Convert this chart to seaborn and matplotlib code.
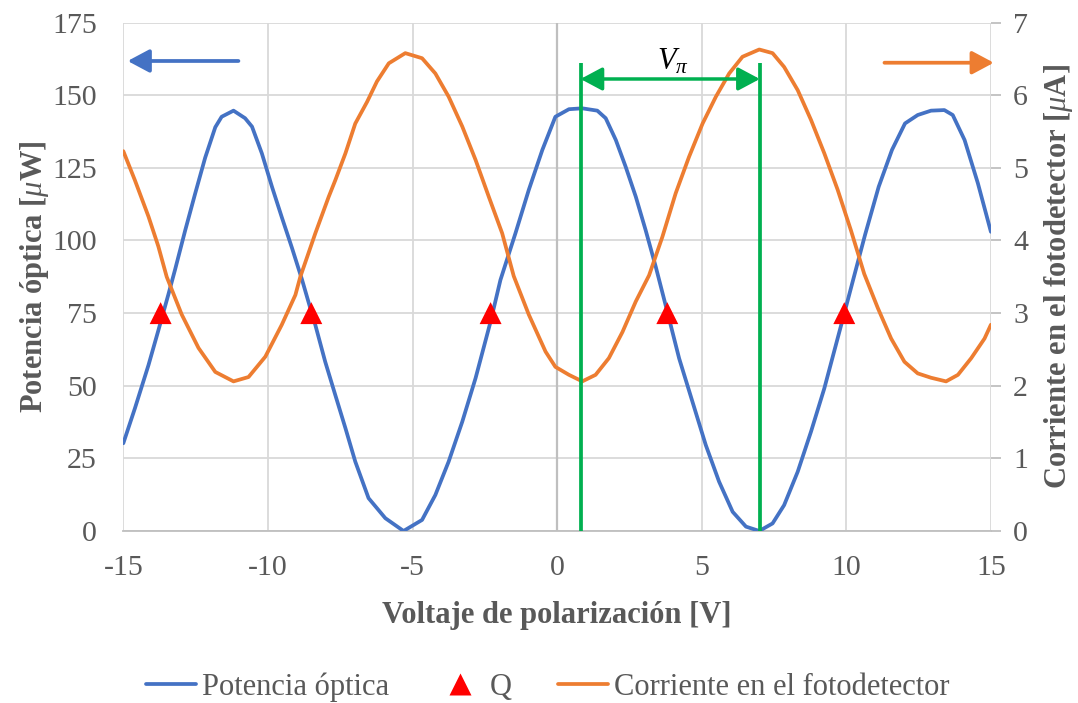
import matplotlib
matplotlib.use("Agg")
import matplotlib.pyplot as plt
import seaborn as sns
import pandas as pd
from matplotlib.lines import Line2D

# Optical power [µW] vs bias voltage [V]
volt_p = [-15.0, -14.6, -14.13, -13.79, -13.44, -13.21, -12.86, -12.52, -12.17, -11.82,
          -11.6, -11.19, -10.79, -10.55, -10.21, -9.86, -9.52, -9.17, -8.82, -8.5,
          -8.36, -8.02, -7.67, -7.32, -6.98, -6.52, -5.94, -5.31, -4.67, -4.21,
          -3.75, -3.28, -2.82, -2.3, -1.96, -1.44, -0.98, -0.51, -0.06, 0.41,
          0.87, 1.39, 1.68, 2.03, 2.37, 2.72, 3.06, 3.41, 3.81, 4.22,
          4.68, 5.14, 5.6, 6.07, 6.53, 6.99, 7.45, 7.85, 8.32, 8.78,
          9.24, 9.7, 9.93, 10.28, 10.65, 11.12, 11.58, 12.03, 12.47, 12.93,
          13.39, 13.68, 14.09, 14.55, 15.0]
pot_uW = [30.2, 42.2, 57.1, 69.0, 81.5, 90.0, 103.5, 116.0, 128.5, 139.0,
          142.6, 144.7, 142.1, 139.2, 130.0, 118.5, 108.0, 97.5, 86.5, 75.5,
          70.9, 58.3, 46.8, 35.4, 23.9, 11.3, 4.4, 0.0, 3.8, 12.4,
          23.9, 37.6, 52.6, 72.1, 86.4, 102.5, 117.4, 131.2, 142.6, 145.2,
          145.5, 144.7, 142.1, 134.6, 125.4, 115.1, 103.6, 91.0, 75.5, 59.4,
          44.5, 29.6, 17.0, 6.6, 1.5, 0.0, 2.6, 8.9, 20.4, 34.2,
          49.1, 66.3, 74.9, 88.1, 102.0, 118.5, 131.2, 140.3, 143.2, 144.7,
          144.9, 143.2, 134.6, 119.7, 103.0]

# Photodetector current [µA] vs bias voltage [V]
volt_i = [-15.0, -14.6, -14.13, -13.79, -13.5, -12.98, -12.4, -11.82, -11.19, -10.67,
          -10.09, -9.52, -9.05, -8.88, -8.36, -7.9, -7.67, -7.32, -6.98, -6.57,
          -6.23, -5.82, -5.25, -4.67, -4.21, -3.75, -3.28, -2.82, -2.36, -1.9,
          -1.5, -0.98, -0.4, -0.06, 0.41, 0.87, 1.33, 1.79, 2.26, 2.72,
          3.18, 3.64, 4.1, 4.56, 5.03, 5.49, 5.95, 6.41, 6.99, 7.45,
          7.85, 8.32, 8.78, 9.24, 9.7, 10.16, 10.62, 11.09, 11.55, 12.01,
          12.47, 12.93, 13.45, 13.86, 14.32, 14.78, 15.0]
corr_uA = [5.23, 4.83, 4.33, 3.92, 3.50, 2.98, 2.52, 2.19, 2.06, 2.12,
           2.40, 2.84, 3.25, 3.50, 4.10, 4.60, 4.83, 5.20, 5.61, 5.91,
           6.19, 6.44, 6.58, 6.51, 6.30, 5.98, 5.57, 5.11, 4.60, 4.10,
           3.51, 2.98, 2.47, 2.26, 2.15, 2.06, 2.15, 2.38, 2.74, 3.16,
           3.52, 4.05, 4.65, 5.15, 5.61, 5.98, 6.30, 6.53, 6.63, 6.58,
           6.39, 6.07, 5.66, 5.20, 4.70, 4.14, 3.54, 3.07, 2.65, 2.33,
           2.17, 2.11, 2.06, 2.15, 2.38, 2.65, 2.84]

# Quadrature points
q_volt = [-13.71, -8.5, -2.3, 3.81, 9.93]
q_pot = [75, 75, 75, 75, 75]

# Half-wave voltage markers
v_pi_start = 0.81
v_pi_end = 7.01

x_ticks = [-15, -10, -5, 0, 5, 10, 15]
y_ticks_left = [0, 25, 50, 75, 100, 125, 150, 175]
y_ticks_right = [0, 1, 2, 3, 4, 5, 6, 7]

BLUE = "#4472C4"
ORANGE = "#ED7D31"
GREEN = "#00B050"
RED = "#FF0000"
TXT = "#595959"
GRID = "#D9D9D9"

sns.set_theme(style="white")
plt.rcParams["font.family"] = ["Liberation Serif", "DejaVu Serif"]
plt.rcParams["axes.unicode_minus"] = False
plt.rcParams["mathtext.fontset"] = "custom"
plt.rcParams["mathtext.rm"] = "Liberation Serif"
plt.rcParams["mathtext.it"] = "Liberation Serif:italic"
plt.rcParams["mathtext.bf"] = "Liberation Serif:bold:italic"

df_p = pd.DataFrame({"v": volt_p, "p": pot_uW})
df_i = pd.DataFrame({"v": volt_i, "i": corr_uA})
df_q = pd.DataFrame({"v": q_volt, "p": q_pot})

fig = plt.figure(figsize=(10.78, 7.03), dpi=100)
ax = fig.add_axes([0.1144, 0.2447, 0.8048, 0.7231])
ax2 = ax.twinx()

line_kw = dict(lw=2.7, errorbar=None, legend=False, zorder=3,
               solid_joinstyle="round", solid_capstyle="round")
sns.lineplot(data=df_p, x="v", y="p", ax=ax, color=BLUE, **line_kw)
sns.scatterplot(data=df_q, x="v", y="p", ax=ax, marker="^", s=250,
                color=RED, edgecolor="none", legend=False, zorder=4)
sns.lineplot(data=df_i, x="v", y="i", ax=ax2, color=ORANGE, **line_kw)

# axes ranges and ticks
ax.set_xlim(-15, 15)
ax.set_ylim(0, 175)
ax2.set_ylim(0, 7)
ax.set_xticks(x_ticks)
ax.set_yticks(y_ticks_left)
ax2.set_yticks(y_ticks_right)

ax.grid(True, color=GRID, lw=1.3, zorder=0)
ax.set_axisbelow(True)
ax.axvline(0, color="#BFBFBF", lw=1.6, zorder=1)

for sp in ["top", "left", "right"]:
    ax.spines[sp].set_visible(False)
ax.spines["bottom"].set_color("#BFBFBF")
ax.spines["bottom"].set_linewidth(1.3)
for sp in ax2.spines.values():
    sp.set_visible(False)

TICK_FS = 21.5
LABEL_FS = 22
ax.tick_params(axis="x", length=0, pad=17, labelsize=TICK_FS, labelcolor=TXT)
ax.tick_params(axis="y", length=0, pad=19, labelsize=TICK_FS, labelcolor=TXT)
ax2.tick_params(axis="y", right=True, length=7, width=1.3, color="#BFBFBF",
                direction="out", pad=9, labelsize=TICK_FS, labelcolor=TXT)
ax2.grid(False)

ax.set_xlabel("Voltaje de polarización [V]", fontsize=LABEL_FS, fontweight="bold",
              color=TXT, labelpad=15)
ax.set_ylabel(r"Potencia óptica [$\mu$W]", fontsize=LABEL_FS, fontweight="bold",
              color=TXT, labelpad=1)
ax2.set_ylabel(r"Corriente en el fotodetector [$\mu$A]", fontsize=LABEL_FS,
               fontweight="bold", color=TXT, labelpad=10)

# V_pi markers, drawn above both series
for xv in (v_pi_start, v_pi_end):
    ax2.plot([xv, xv], [0, 161.2], color=GREEN, lw=2.7, transform=ax.transData,
             zorder=6, solid_capstyle="butt", clip_on=False)
ax2.annotate("", xy=(v_pi_end, 155.6), xytext=(v_pi_start, 155.6),
             xycoords=ax.transData, textcoords=ax.transData,
             arrowprops=dict(arrowstyle="<|-|>,head_length=0.6,head_width=0.32",
                             color=GREEN, lw=2.5, mutation_scale=22,
                             shrinkA=0, shrinkB=0), zorder=6)
ax2.text(3.99, 161.6, r"$V_\pi$", transform=ax.transData, fontsize=22,
         ha="center", va="center", color="black", zorder=6)

# axis-association arrows
ax2.annotate("", xy=(-14.85, 161.8), xytext=(-11.02, 161.8),
             xycoords=ax.transData, textcoords=ax.transData,
             arrowprops=dict(arrowstyle="-|>,head_length=0.6,head_width=0.32",
                             color=BLUE, lw=2.7, mutation_scale=22,
                             shrinkA=0, shrinkB=0), zorder=6)
ax2.annotate("", xy=(15.1, 161.2), xytext=(11.32, 161.2),
             xycoords=ax.transData, textcoords=ax.transData,
             arrowprops=dict(arrowstyle="-|>,head_length=0.6,head_width=0.32",
                             color=ORANGE, lw=2.7, mutation_scale=22,
                             shrinkA=0, shrinkB=0), zorder=6,
             annotation_clip=False)

handles = [
    Line2D([], [], color=BLUE, lw=2.7),
    Line2D([], [], color=RED, marker="^", ls="none", ms=16, mec="none"),
    Line2D([], [], color=ORANGE, lw=2.7),
]
labels = ["Potencia óptica", "Q", "Corriente en el fotodetector"]
fig.legend(handles, labels, loc="center", bbox_to_anchor=(0.508, 1 - 687 / 703),
           ncol=3, frameon=False, fontsize=LABEL_FS, labelcolor=TXT,
           handlelength=1.65, handletextpad=0.17, columnspacing=1.5)

fig.savefig("out.png", dpi=100, facecolor="white")
